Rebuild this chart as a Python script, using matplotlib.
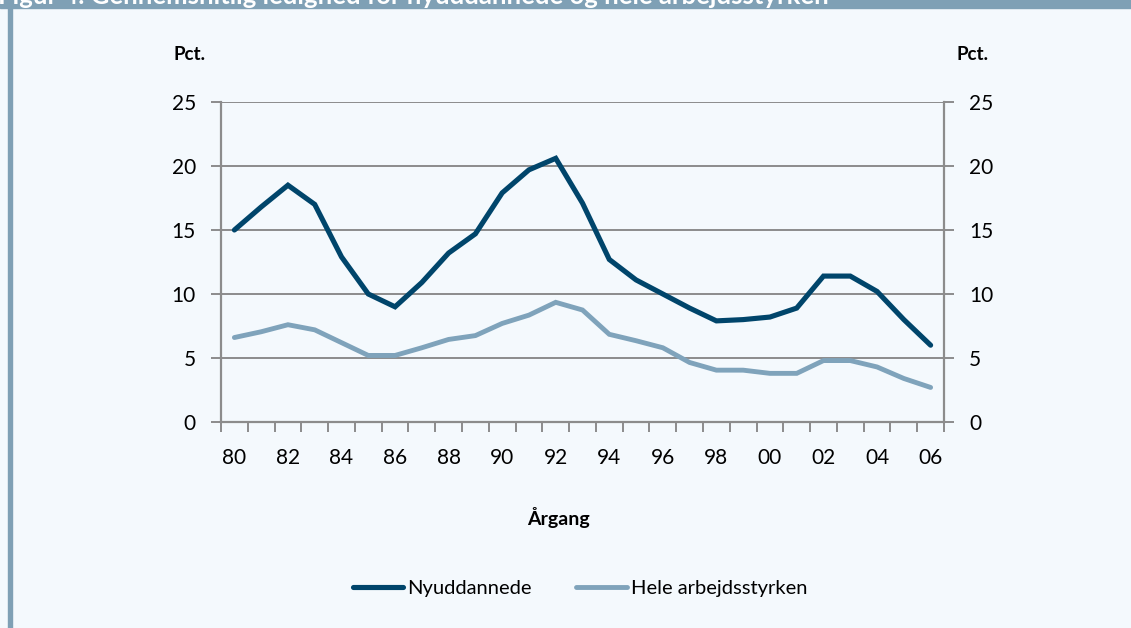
import matplotlib.pyplot as plt
from matplotlib.patches import Rectangle

plt.rcParams['font.family'] = ['Lato', 'DejaVu Sans']

# Data (ledighed i pct.)
years = ['80', '81', '82', '83', '84', '85', '86', '87', '88', '89',
         '90', '91', '92', '93', '94', '95', '96', '97', '98', '99',
         '00', '01', '02', '03', '04', '05', '06']
nyuddannede = [15.0, 16.8, 18.5, 17.0, 12.9, 10.0, 9.0, 10.9, 13.2, 14.7,
               17.9, 19.7, 20.6, 17.1, 12.7, 11.1, 10.0, 8.9, 7.9, 8.0,
               8.2, 8.9, 11.4, 11.4, 10.2, 8.0, 6.0]
hele = [6.6, 7.05, 7.6, 7.2, 6.2, 5.2, 5.2, 5.8, 6.45, 6.75,
        7.7, 8.35, 9.35, 8.75, 6.85, 6.35, 5.8, 4.65, 4.05, 4.05,
        3.8, 3.8, 4.8, 4.8, 4.3, 3.4, 2.7]
yticks = [0, 5, 10, 15, 20, 25]

bg = '#f4f9fd'
dark = '#00456b'
light = '#7fa3bb'
grey = '#8c8c8c'

W, H = 1131, 628
fig = plt.figure(figsize=(W / 100, H / 100), dpi=100, facecolor=bg)

# header band (title cut off at the top) and left border
fig.patches.append(Rectangle((0, 1 - 8 / H), 1, 8 / H, transform=fig.transFigure,
                             color='#7fa0b5', zorder=0))
fig.patches.append(Rectangle((8 / W, 0), 4 / W, 1 - 8 / H, transform=fig.transFigure,
                             color='#7fa0b5', zorder=0))
fig.text(-2 / W, 1 - 3.5 / H, 'Figur 4. Gennemsnitlig ledighed for nyuddannede og hele arbejdsstyrken',
         color='white', fontsize=18.5, fontweight='bold', va='baseline', ha='left')

ax = fig.add_axes([221 / W, 1 - 422 / H, (944 - 221) / W, 320 / H])
ax.set_facecolor(bg)

x = list(range(len(years)))
ax.plot(x, nyuddannede, color=dark, lw=3.7, solid_joinstyle='miter',
        solid_capstyle='round', label='Nyuddannede', zorder=3)
ax.plot(x, hele, color=light, lw=3.5, solid_joinstyle='miter',
        solid_capstyle='round', label='Hele arbejdsstyrken', zorder=3)

ax.set_xlim(-0.5, len(years) - 0.5)
ax.set_ylim(0, 25)

# gridlines
for v in yticks[1:]:
    ax.axhline(v, color=grey, lw=1.4, zorder=1)

ax.spines['top'].set_visible(False)
for side in ['left', 'right', 'bottom']:
    ax.spines[side].set_color(grey)
    ax.spines[side].set_linewidth(1.6)

# x axis: ticks at category boundaries, labels every second year
ax.set_xticks([i - 0.5 for i in range(len(years) + 1)])
ax.set_xticklabels([])
ax.set_xticks(x[::2], minor=True)
ax.set_xticklabels(years[::2], minor=True)
ax.tick_params(axis='x', which='major', direction='out', length=7, width=1.4, color=grey)
ax.tick_params(axis='x', which='minor', length=0, pad=19, labelsize=15)

ax.set_yticks(yticks)
ax.tick_params(axis='y', direction='out', length=7, width=1.4, color=grey,
               labelsize=15, pad=11, right=True, labelright=True)

fig.text(190 / W, 1 - 55 / H, 'Pct.', fontsize=13.5, fontweight='bold', ha='center', va='center')
fig.text(973 / W, 1 - 55 / H, 'Pct.', fontsize=13.5, fontweight='bold', ha='center', va='center')
fig.text(558 / W, 1 - 518 / H, 'Årgang', fontsize=14, fontweight='bold', ha='center', va='center')

fig.legend(loc='center', bbox_to_anchor=(580 / W, 1 - 588 / H), ncol=2, frameon=False,
           fontsize=14.5, handlelength=2.5, handletextpad=0.2, columnspacing=2.2)

fig.savefig('out.png', dpi=100, facecolor=bg)
